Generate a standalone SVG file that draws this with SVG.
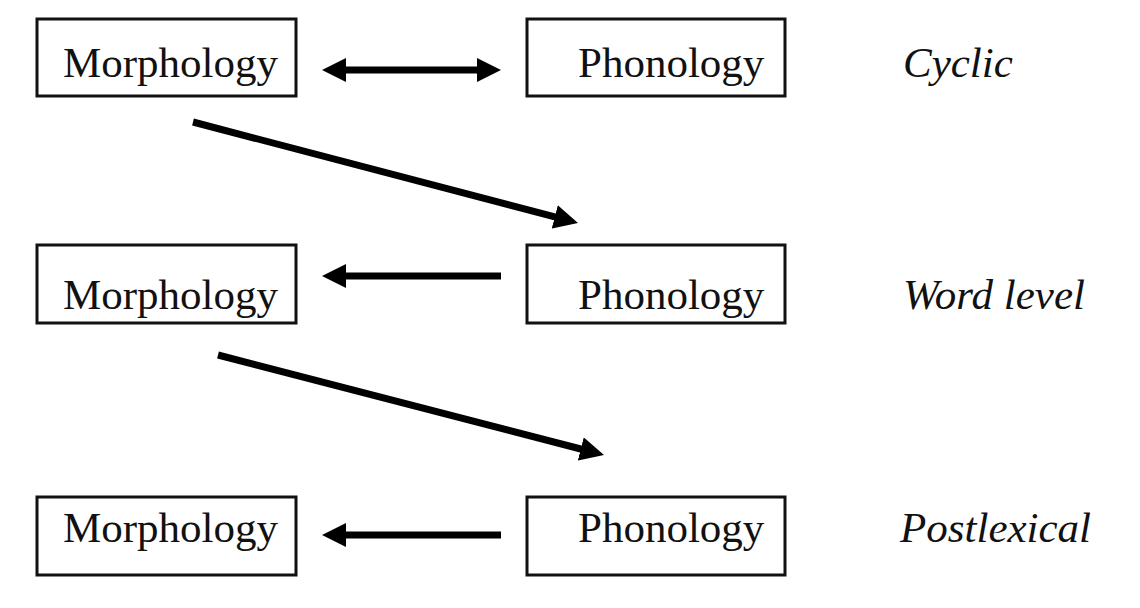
<svg xmlns="http://www.w3.org/2000/svg" width="1140" height="608" viewBox="0 0 1140 608">
<style>
.box{fill:#fff;stroke:#111;stroke-width:3}
.lbl{font-family:"Liberation Serif","Times New Roman",serif;font-size:43px;fill:#111}
.lvl{font-family:"Liberation Serif","Times New Roman",serif;font-size:43px;font-style:italic;fill:#111}
.edge{stroke:#000;stroke-width:7;fill:none}
</style>
<defs>
<marker id="ah" viewBox="0 0 24 24" refX="8" refY="12" markerWidth="24" markerHeight="24" markerUnits="userSpaceOnUse" orient="auto-start-reverse">
<path d="M0,0 L24,12 L0,24 Z" fill="#000"/>
</marker>
</defs>
<rect width="1140" height="608" fill="#fff"/>
<g id="morph1"><rect class="box" x="37" y="19" width="259" height="77"/><text class="lbl" x="63" y="77">Morphology</text></g>
<g id="phon1"><rect class="box" x="527" y="19" width="258" height="77"/><text class="lbl" x="578" y="77">Phonology</text></g>
<g id="morph2"><rect class="box" x="37" y="245" width="259" height="78"/><text class="lbl" x="63" y="309">Morphology</text></g>
<g id="phon2"><rect class="box" x="527" y="245" width="258" height="78"/><text class="lbl" x="578" y="309">Phonology</text></g>
<g id="morph3"><rect class="box" x="37" y="497" width="259" height="78"/><text class="lbl" x="63" y="542">Morphology</text></g>
<g id="phon3"><rect class="box" x="527" y="497" width="258" height="78"/><text class="lbl" x="578" y="542">Phonology</text></g>
<g id="levels">
<text class="lvl" x="903" y="77">Cyclic</text>
<text class="lvl" x="903" y="309">Word level</text>
<text class="lvl" x="900" y="542">Postlexical</text>
</g>
<g id="connectors">
<line class="edge" x1="338" y1="70" x2="485" y2="70" marker-start="url(#ah)" marker-end="url(#ah)"/>
<line class="edge" x1="193" y1="122" x2="562.5" y2="218.9" marker-end="url(#ah)"/>
<line class="edge" x1="501" y1="276" x2="338" y2="276" marker-end="url(#ah)"/>
<line class="edge" x1="218" y1="355" x2="588.5" y2="451" marker-end="url(#ah)"/>
<line class="edge" x1="501" y1="535" x2="338" y2="535" marker-end="url(#ah)"/>
</g>
</svg>
